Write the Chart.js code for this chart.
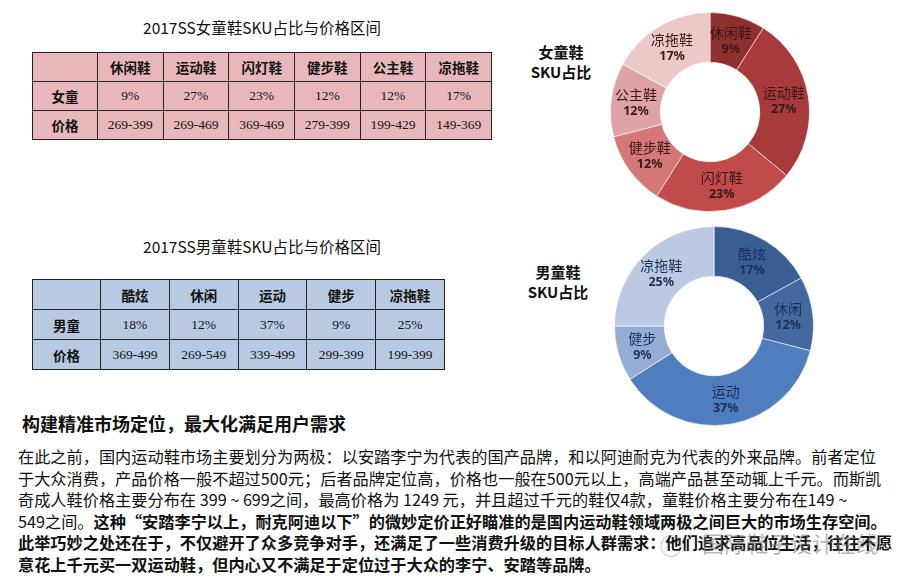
<!DOCTYPE html>
<html>
<head>
<meta charset="utf-8">
<script src="https://cdn.jsdelivr.net/npm/chart.js@4.4.0/dist/chart.umd.min.js"></script>
<style>
  body { margin: 0; background: #fff; width: 905px; height: 581px; overflow: hidden; position: relative;
         font-family: "Noto Sans CJK SC", "Noto Sans", sans-serif; color: #111; }
  .abs { position: absolute; }
  .title { font-size: 15.5px; text-align: center; width: 460px; left: 32px; }
  table { position: absolute; border-collapse: collapse; table-layout: fixed; }
  td { border: 1.5px solid #222; text-align: center; padding: 0; }
  td.hd { font-weight: bold; font-size: 13.5px; }
  td.val { font-family: "Liberation Serif", "DejaVu Serif", serif; font-size: 13.5px; }
  .pink td { background: #e8b7bb; }
  .blue td { background: #b8c9e2; }
  .side { font-weight: bold; font-size: 15px; text-align: center; line-height: 20px; width: 90px; }
  .para { left: 18px; top: 446px; font-size: 16.2px; line-height: 21.5px; white-space: nowrap; }
  .b { font-weight: bold; }
  .wm { color: rgba(120,120,120,0.55); white-space: nowrap; }
</style>
</head>
<body>

<div class="abs title" style="top:16px;">2017SS女童鞋SKU占比与价格区间</div>
<table id="girlTable" class="pink" style="left:32px;top:52px;width:460px;"></table>

<div class="abs title" style="top:235px;">2017SS男童鞋SKU占比与价格区间</div>
<table id="boyTable" class="blue" style="left:32px;top:279px;width:413px;"></table>

<div class="abs side" style="left:516px;top:42px;">女童鞋<br>SKU占比</div>
<div class="abs" style="left:610px;top:12px;width:200px;height:200px;"><canvas id="girlPie" width="200" height="200"></canvas></div>

<div class="abs side" style="left:513px;top:262px;">男童鞋<br>SKU占比</div>
<div class="abs" style="left:614px;top:226px;width:200px;height:200px;"><canvas id="boyPie" width="200" height="200"></canvas></div>

<div class="abs b" style="left:22px;top:410px;font-size:18px;">构建精准市场定位，最大化满足用户需求</div>

<div class="abs para">
在此之前，国内运动鞋市场主要划分为两极：以安踏李宁为代表的国产品牌，和以阿迪耐克为代表的外来品牌。前者定位<br>
于大众消费，产品价格一般不超过500元；后者品牌定位高，价格也一般在500元以上，高端产品甚至动辄上千元。而斯凯<br>
奇成人鞋价格主要分布在 399 ~ 699之间，最高价格为 1249 元，并且超过千元的鞋仅4款，童鞋价格主要分布在149 ~<br>
549之间。<span class="b">这种“安踏李宁以上，耐克阿迪以下”的微妙定价正好瞄准的是国内运动鞋领域两极之间巨大的市场生存空间。</span><br>
<span class="b">此举巧妙之处还在于，不仅避开了众多竞争对手，还满足了一些消费升级的目标人群需求：他们追求高品位生活，往往不愿</span><br>
<span class="b">意花上千元买一双运动鞋，但内心又不满足于定位过于大众的李宁、安踏等品牌。</span>
</div>

<div class="abs wm" style="left:660px;top:528px;font-size:22px;">◯</div>
<div class="abs wm" style="left:702px;top:526px;font-size:22px;">国际鞋子设计在线</div>

<script>
// 女童鞋
var girlCats = ["休闲鞋", "运动鞋", "闪灯鞋", "健步鞋", "公主鞋", "凉拖鞋"];
var girlShare = [9, 27, 23, 12, 12, 17];
var girlPrice = ["269-399", "269-469", "369-469", "279-399", "199-429", "149-369"];
var girlColors = ["#8e2f30", "#a93a3b", "#c14a4b", "#d37779", "#dfa3a5", "#ecc8c9"];

// 男童鞋
var boyCats = ["酷炫", "休闲", "运动", "健步", "凉拖鞋"];
var boyTableShare = [18, 12, 37, 9, 25];
var boyPieShare = [17, 12, 37, 9, 25];
var boyPrice = ["369-499", "269-549", "339-499", "299-399", "199-399"];
var boyColors = ["#3a5d92", "#44689f", "#4e7ebe", "#95acd4", "#bbc9e3"];

//funzione per costruire la tabella
function buildTable(id, rowName, cats, share, price, firstW, rowH) {
  var t = document.getElementById(id);
  var html = "<colgroup><col style='width:" + firstW + "px'>";
  for (var i = 0; i < cats.length; i++) html += "<col>";
  html += "</colgroup>";

  html += "<tr style='height:" + rowH + "px'><td></td>";
  for (var i = 0; i < cats.length; i++) html += "<td class='hd'>" + cats[i] + "</td>";
  html += "</tr>";

  html += "<tr style='height:" + rowH + "px'><td class='hd'>" + rowName + "</td>";
  for (var i = 0; i < share.length; i++) html += "<td class='val'>" + share[i] + "%</td>";
  html += "</tr>";

  html += "<tr style='height:" + rowH + "px'><td class='hd'>价格</td>";
  for (var i = 0; i < price.length; i++) html += "<td class='val'>" + price[i] + "</td>";
  html += "</tr>";

  t.innerHTML = html;
}

buildTable("girlTable", "女童", girlCats, girlShare, girlPrice, 65, 29);
buildTable("boyTable", "男童", boyCats, boyTableShare, boyPrice, 68, 30);

// etichette dentro le fette
var sliceLabels = {
  id: "sliceLabels",
  afterDatasetsDraw: function(chart) {
    var ctx = chart.ctx;
    var meta = chart.getDatasetMeta(0);
    var color = chart.options.plugins.sliceLabels.color;
    var labels = chart.data.labels;
    var values = chart.data.datasets[0].data;
    ctx.save();
    ctx.textAlign = "center";
    ctx.textBaseline = "middle";
    ctx.fillStyle = color;
    for (var i = 0; i < meta.data.length; i++) {
      var p = meta.data[i].getCenterPoint();
      ctx.font = "14px 'Noto Sans CJK SC'";
      ctx.fillText(labels[i], p.x, p.y - 8);
      ctx.font = "bold 12.5px 'Noto Sans', sans-serif";
      ctx.fillText(values[i] + "%", p.x, p.y + 9);
    }
    ctx.restore();
  }
};

function printPie(id, cats, values, colors, textColor) {
  var ctx = document.getElementById(id).getContext("2d");
  return new Chart(ctx, {
    type: "doughnut",
    data: {
      labels: cats,
      datasets: [{
        data: values,
        backgroundColor: colors,
        borderColor: "rgba(255,255,255,0.6)",
        borderWidth: 1
      }]
    },
    options: {
      responsive: false,
      animation: false,
      cutout: "50%",
      layout: { padding: 0 },
      plugins: {
        legend: { display: false },
        tooltip: { enabled: false },
        sliceLabels: { color: textColor }
      }
    },
    plugins: [sliceLabels]
  });
}

printPie("girlPie", girlCats, girlShare, girlColors, "#3a1818");
printPie("boyPie", boyCats, boyPieShare, boyColors, "#1b2f57");
</script>
</body>
</html>
